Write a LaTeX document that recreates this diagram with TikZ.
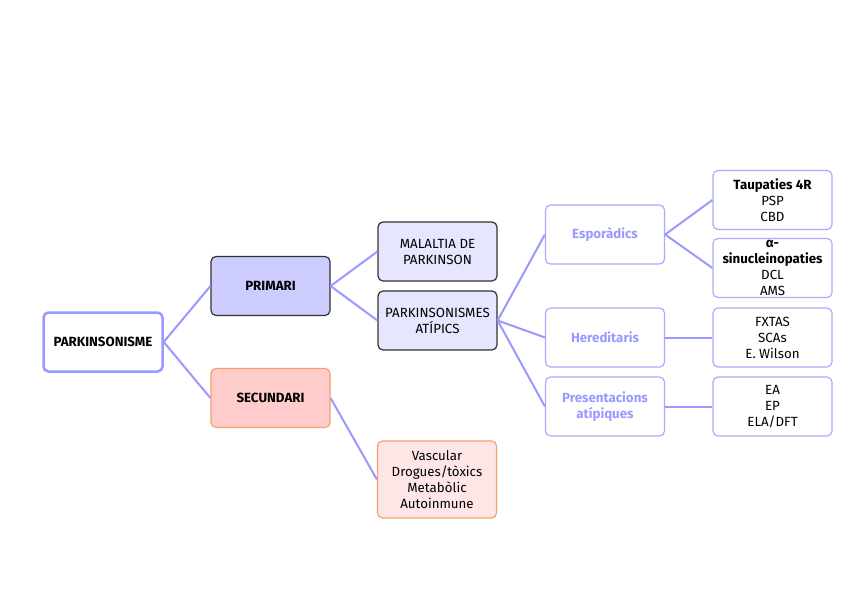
\documentclass[tikz,border=0pt]{standalone}
\usepackage{fontspec}
\setmainfont{Fira Sans}
\definecolor{lav}{HTML}{9999FF}
\definecolor{lavb}{HTML}{AAAAFF}
\definecolor{prim}{HTML}{CCCCFF}
\definecolor{primlight}{HTML}{E6E6FF}
\definecolor{sec}{HTML}{FFCCCC}
\definecolor{seclight}{HTML}{FFE6E6}
\definecolor{orng}{HTML}{F4A06A}
\definecolor{dark}{HTML}{333333}
\begin{document}
\begin{tikzpicture}[x=1pt,y=-1pt,
  box/.style={rounded corners=5pt, minimum width=119pt, minimum height=59pt, align=center, inner sep=0pt, font=\fontsize{13.3}{16}\selectfont, line width=1.2pt},
  rootbox/.style={box, draw=lav, line width=2.5pt, fill=white, font=\fontsize{13.3}{16}\selectfont\bfseries},
  primbox/.style={box, draw=dark, fill=prim, font=\fontsize{13.3}{16}\selectfont\bfseries},
  secbox/.style={box, draw=orng, fill=sec, font=\fontsize{13.3}{16}\selectfont\bfseries},
  pchild/.style={box, draw=dark, fill=primlight},
  schild/.style={box, draw=orng, fill=seclight},
  catbox/.style={box, draw=lavb, fill=white, text=lav, font=\fontsize{13.3}{16}\selectfont\bfseries},
  leafbox/.style={box, draw=lavb, fill=white},
  link/.style={draw=lav, line width=2pt}
]
\useasboundingbox (0,0) rectangle (848,599);
\node[rootbox] (root) at (103,342) {PARKINSONISME};
\node[primbox] (prim) at (270.5,286) {PRIMARI};
\node[secbox] (sec) at (270.5,398) {SECUNDARI};
\node[pchild] (mp) at (437.5,251.5) {MALALTIA DE\\PARKINSON};
\node[pchild] (pa) at (437.5,320.5) {PARKINSONISMES\\ATÍPICS};
\node[schild, minimum height=77pt] (vasc) at (437,479.5) {Vascular\\Drogues/tòxics\\Metabòlic\\Autoinmune};
\node[catbox] (esp) at (605,234.5) {Esporàdics};
\node[catbox] (her) at (605,337.5) {Hereditaris};
\node[catbox] (pres) at (605,406.5) {Presentacions\\atípiques};
\node[leafbox] (tau) at (772.5,200) {\textbf{Taupaties 4R}\\PSP\\CBD};
\node[leafbox] (alpha) at (772.5,268) {};
\node[align=center, font=\fontsize{13.3}{16}\selectfont] (alphat) at (772.5,268) {\textbf{α-}\\\textbf{sinucleinopaties}\\DCL\\AMS};
\node[leafbox] (fx) at (772.5,337.5) {FXTAS\\SCAs\\E. Wilson};
\node[leafbox] (ea) at (772.5,406.5) {EA\\EP\\ELA/DFT};
\draw[link] (root.east) -- (prim.west);
\draw[link] (root.east) -- (sec.west);
\draw[link] (prim.east) -- (mp.west);
\draw[link] (prim.east) -- (pa.west);
\draw[link] (sec.east) -- (vasc.west);
\draw[link] (pa.east) -- (esp.west);
\draw[link] (pa.east) -- (her.west);
\draw[link] (pa.east) -- (pres.west);
\draw[link] (esp.east) -- (tau.west);
\draw[link] (esp.east) -- (alpha.west);
\draw[link] (her.east) -- (fx.west);
\draw[link] (pres.east) -- (ea.west);
\end{tikzpicture}
\end{document}
